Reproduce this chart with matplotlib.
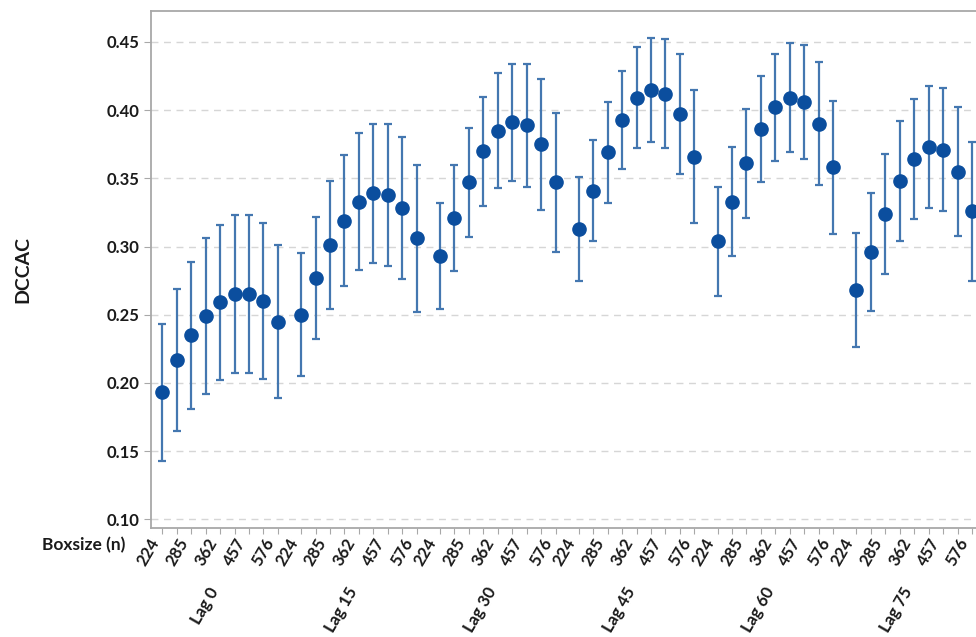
"""DCCAC by box size and lag: mean with error bars, grouped by lag."""
import numpy as np
import matplotlib
matplotlib.use("Agg")
import matplotlib.pyplot as plt
from matplotlib.transforms import blended_transform_factory, ScaledTranslation

plt.rcParams["font.family"] = ["Lato", "DejaVu Sans"]

LAGS = ["Lag 0", "Lag 15", "Lag 30", "Lag 45", "Lag 60", "Lag 75"]
BOXSIZES = [224, 252, 285, 320, 362, 407, 457, 512, 576]
SHOWN_BOXSIZES = [224, 285, 362, 457, 576]

# mean DCCAC per lag (rows) and box size (cols)
dccac_lag0 = [0.193, 0.217, 0.235, 0.249, 0.259, 0.265, 0.265, 0.260, 0.245]
dccac_lag15 = [0.250, 0.277, 0.301, 0.319, 0.333, 0.339, 0.338, 0.328, 0.306]
dccac_lag30 = [0.293, 0.321, 0.347, 0.370, 0.385, 0.391, 0.389, 0.375, 0.347]
dccac_lag45 = [0.313, 0.341, 0.369, 0.393, 0.409, 0.415, 0.412, 0.397, 0.366]
dccac_lag60 = [0.304, 0.333, 0.361, 0.386, 0.402, 0.409, 0.406, 0.390, 0.358]
dccac_lag75 = [0.268, 0.296, 0.324, 0.348, 0.364, 0.373, 0.371, 0.355, 0.326]

# half-width of the error bars
err_lag0 = [0.050, 0.052, 0.054, 0.057, 0.057, 0.058, 0.058, 0.057, 0.056]
err_lag15 = [0.045, 0.045, 0.047, 0.048, 0.050, 0.051, 0.052, 0.052, 0.054]
err_lag30 = [0.039, 0.039, 0.040, 0.040, 0.042, 0.043, 0.045, 0.048, 0.051]
err_lag45 = [0.038, 0.037, 0.037, 0.036, 0.037, 0.038, 0.040, 0.044, 0.049]
err_lag60 = [0.040, 0.040, 0.040, 0.039, 0.039, 0.040, 0.042, 0.045, 0.049]
err_lag75 = [0.042, 0.043, 0.044, 0.044, 0.044, 0.045, 0.045, 0.047, 0.051]

means = [dccac_lag0, dccac_lag15, dccac_lag30, dccac_lag45, dccac_lag60, dccac_lag75]
errs = [err_lag0, err_lag15, err_lag30, err_lag45, err_lag60, err_lag75]

GROUP_STEP = len(BOXSIZES) + 0.6
MARKER_COLOR = "#0b4e9e"
BAR_COLOR = "#4477b0"
AXIS_COLOR = "#a8a8a8"
TEXT_KW = dict(fontsize=12, fontweight="bold", color="#1a1a1a")

fig = plt.figure(figsize=(9.76, 6.37), dpi=100)
# axes run past the right edge of the figure, so the last group is clipped
ax = fig.add_axes([0.1547, 0.1711, 0.856, 0.8116])

x_all, centers = [], []
for g, (m, e) in enumerate(zip(means, errs)):
    x = g * GROUP_STEP + np.arange(len(BOXSIZES))
    ax.errorbar(x, m, yerr=e, fmt="o", color=MARKER_COLOR, ecolor=BAR_COLOR,
                elinewidth=1.6, capsize=3.2, capthick=1.6, markersize=9.5,
                markeredgecolor=MARKER_COLOR, zorder=3)
    x_all.extend(x)
    centers.append(x.mean())

ax.set_xlim(-0.78, 57.0)
ax.set_ylim(0.0936, 0.4727)
yt = np.arange(0.10, 0.451, 0.05)
ax.set_yticks(yt)
ax.set_yticklabels([f"{v:.2f}" for v in yt], **TEXT_KW)
ax.yaxis.grid(True, linestyle=(0, (5, 4)), color="#d6d6d6", linewidth=1)
ax.set_axisbelow(True)

ax.set_xticks(x_all)
ax.set_xticklabels([])
ax.tick_params(axis="x", length=4, color=AXIS_COLOR)
ax.tick_params(axis="y", length=5, color=AXIS_COLOR, pad=3)

for side in ("left", "top", "bottom", "right"):
    ax.spines[side].set_color(AXIS_COLOR)
    ax.spines[side].set_linewidth(1.3)

ax.set_ylabel("DCCAC", fontsize=14, fontweight="bold", color="#1a1a1a")
ax.yaxis.set_label_coords(-0.143, 0.5)

# slanted box-size labels (every other one) and lag group labels
base = blended_transform_factory(ax.transData, ax.transAxes)
box_trans = base + ScaledTranslation(-14 / 100, 0, fig.dpi_scale_trans)
lag_trans = base + ScaledTranslation(-12 / 100, 0, fig.dpi_scale_trans)
for xi, b in zip(x_all, BOXSIZES * len(LAGS)):
    if b in SHOWN_BOXSIZES:
        ax.text(xi, -0.014, str(b), transform=box_trans, rotation=60,
                ha="right", va="top", rotation_mode="anchor", **TEXT_KW)
for c, lab in zip(centers, LAGS):
    ax.text(c, -0.11, lab, transform=lag_trans, rotation=60, ha="right",
            va="top", rotation_mode="anchor", **TEXT_KW)

fig.text(125 / 976, 1 - 545 / 637, "Boxsize (n)", ha="right", va="center",
         fontsize=12.5, fontweight="bold", color="#1a1a1a")

fig.savefig("out.png", dpi=100)
